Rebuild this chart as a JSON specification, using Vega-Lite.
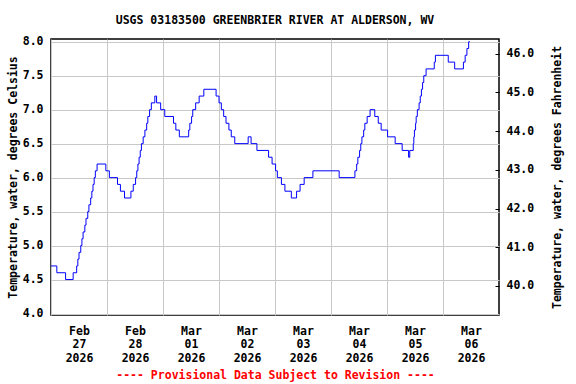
{
  "$schema": "https://vega.github.io/schema/vega-lite/v6.json",
  "width": 448,
  "height": 276,
  "autosize": {"type": "none"},
  "padding": {"left": 51, "top": 39, "right": 77, "bottom": 69},
  "title": {
    "text": "USGS 03183500 GREENBRIER RIVER AT ALDERSON, WV",
    "font": "DejaVu Sans Mono",
    "fontSize": 11.5,
    "fontWeight": "bold",
    "color": "black",
    "anchor": "middle",
    "frame": "group",
    "baseline": "alphabetic",
    "offset": 0
  },
  "config": {
    "view": {"stroke": "black", "strokeWidth": 1.5},
    "axis": {
      "labelFont": "DejaVu Sans Mono",
      "labelFontSize": 11.5,
      "labelFontWeight": "bold",
      "labelColor": "black",
      "titleFont": "DejaVu Sans Mono",
      "titleFontSize": 11.5,
      "titleFontWeight": "bold",
      "titleColor": "black",
      "domain": false,
      "gridColor": "#c8c8c8",
      "gridWidth": 1,
      "gridOpacity": 1
    }
  },
  "resolve": {"scale": {"y": "independent"}, "axis": {"y": "independent"}},
  "layer": [
    {
      "data": {
        "values": [
          {"t": "2026-02-27T00:00", "c": 4.7},
          {"t": "2026-02-27T02:30", "c": 4.6},
          {"t": "2026-02-27T06:15", "c": 4.5},
          {"t": "2026-02-27T09:30", "c": 4.6},
          {"t": "2026-02-27T11:00", "c": 4.7},
          {"t": "2026-02-27T11:30", "c": 4.8},
          {"t": "2026-02-27T12:00", "c": 4.9},
          {"t": "2026-02-27T12:45", "c": 5.0},
          {"t": "2026-02-27T13:15", "c": 5.1},
          {"t": "2026-02-27T13:45", "c": 5.2},
          {"t": "2026-02-27T14:30", "c": 5.3},
          {"t": "2026-02-27T15:00", "c": 5.4},
          {"t": "2026-02-27T15:45", "c": 5.5},
          {"t": "2026-02-27T16:15", "c": 5.6},
          {"t": "2026-02-27T17:00", "c": 5.7},
          {"t": "2026-02-27T17:30", "c": 5.8},
          {"t": "2026-02-27T18:00", "c": 5.9},
          {"t": "2026-02-27T18:30", "c": 6.0},
          {"t": "2026-02-27T19:00", "c": 6.1},
          {"t": "2026-02-27T19:45", "c": 6.2},
          {"t": "2026-02-27T23:30", "c": 6.1},
          {"t": "2026-02-28T01:00", "c": 6.0},
          {"t": "2026-02-28T04:30", "c": 5.9},
          {"t": "2026-02-28T05:45", "c": 5.8},
          {"t": "2026-02-28T07:30", "c": 5.7},
          {"t": "2026-02-28T10:15", "c": 5.8},
          {"t": "2026-02-28T11:15", "c": 5.9},
          {"t": "2026-02-28T12:15", "c": 6.0},
          {"t": "2026-02-28T12:45", "c": 6.1},
          {"t": "2026-02-28T13:15", "c": 6.2},
          {"t": "2026-02-28T13:45", "c": 6.3},
          {"t": "2026-02-28T14:15", "c": 6.4},
          {"t": "2026-02-28T14:45", "c": 6.5},
          {"t": "2026-02-28T15:30", "c": 6.6},
          {"t": "2026-02-28T16:15", "c": 6.7},
          {"t": "2026-02-28T17:00", "c": 6.8},
          {"t": "2026-02-28T17:30", "c": 6.9},
          {"t": "2026-02-28T18:15", "c": 7.0},
          {"t": "2026-02-28T19:00", "c": 7.1},
          {"t": "2026-02-28T20:30", "c": 7.2},
          {"t": "2026-02-28T21:15", "c": 7.1},
          {"t": "2026-02-28T23:00", "c": 7.0},
          {"t": "2026-03-01T00:45", "c": 6.9},
          {"t": "2026-03-01T04:30", "c": 6.8},
          {"t": "2026-03-01T05:30", "c": 6.7},
          {"t": "2026-03-01T07:00", "c": 6.6},
          {"t": "2026-03-01T11:00", "c": 6.7},
          {"t": "2026-03-01T11:30", "c": 6.8},
          {"t": "2026-03-01T12:15", "c": 6.9},
          {"t": "2026-03-01T12:45", "c": 7.0},
          {"t": "2026-03-01T14:00", "c": 7.1},
          {"t": "2026-03-01T15:30", "c": 7.2},
          {"t": "2026-03-01T17:30", "c": 7.3},
          {"t": "2026-03-01T22:45", "c": 7.2},
          {"t": "2026-03-02T00:00", "c": 7.1},
          {"t": "2026-03-02T01:00", "c": 7.0},
          {"t": "2026-03-02T02:00", "c": 6.9},
          {"t": "2026-03-02T03:00", "c": 6.8},
          {"t": "2026-03-02T04:15", "c": 6.7},
          {"t": "2026-03-02T05:15", "c": 6.6},
          {"t": "2026-03-02T06:45", "c": 6.5},
          {"t": "2026-03-02T12:30", "c": 6.6},
          {"t": "2026-03-02T13:45", "c": 6.5},
          {"t": "2026-03-02T16:15", "c": 6.4},
          {"t": "2026-03-02T21:15", "c": 6.3},
          {"t": "2026-03-02T22:45", "c": 6.2},
          {"t": "2026-03-03T00:15", "c": 6.1},
          {"t": "2026-03-03T01:00", "c": 6.0},
          {"t": "2026-03-03T02:45", "c": 5.9},
          {"t": "2026-03-03T04:15", "c": 5.8},
          {"t": "2026-03-03T07:00", "c": 5.7},
          {"t": "2026-03-03T09:15", "c": 5.8},
          {"t": "2026-03-03T10:45", "c": 5.9},
          {"t": "2026-03-03T12:30", "c": 6.0},
          {"t": "2026-03-03T16:15", "c": 6.1},
          {"t": "2026-03-04T03:30", "c": 6.0},
          {"t": "2026-03-04T10:15", "c": 6.1},
          {"t": "2026-03-04T11:00", "c": 6.2},
          {"t": "2026-03-04T11:30", "c": 6.3},
          {"t": "2026-03-04T12:15", "c": 6.4},
          {"t": "2026-03-04T12:45", "c": 6.5},
          {"t": "2026-03-04T13:15", "c": 6.6},
          {"t": "2026-03-04T14:00", "c": 6.7},
          {"t": "2026-03-04T14:30", "c": 6.8},
          {"t": "2026-03-04T15:30", "c": 6.9},
          {"t": "2026-03-04T16:45", "c": 7.0},
          {"t": "2026-03-04T18:45", "c": 6.9},
          {"t": "2026-03-04T20:15", "c": 6.8},
          {"t": "2026-03-04T21:30", "c": 6.7},
          {"t": "2026-03-05T00:15", "c": 6.6},
          {"t": "2026-03-05T03:30", "c": 6.5},
          {"t": "2026-03-05T06:30", "c": 6.4},
          {"t": "2026-03-05T09:15", "c": 6.3},
          {"t": "2026-03-05T09:45", "c": 6.4},
          {"t": "2026-03-05T11:15", "c": 6.5},
          {"t": "2026-03-05T11:30", "c": 6.6},
          {"t": "2026-03-05T11:45", "c": 6.7},
          {"t": "2026-03-05T12:15", "c": 6.8},
          {"t": "2026-03-05T12:30", "c": 6.9},
          {"t": "2026-03-05T13:00", "c": 7.0},
          {"t": "2026-03-05T13:45", "c": 7.1},
          {"t": "2026-03-05T14:15", "c": 7.2},
          {"t": "2026-03-05T14:45", "c": 7.3},
          {"t": "2026-03-05T15:15", "c": 7.4},
          {"t": "2026-03-05T15:45", "c": 7.5},
          {"t": "2026-03-05T16:45", "c": 7.6},
          {"t": "2026-03-05T20:15", "c": 7.7},
          {"t": "2026-03-05T20:45", "c": 7.8},
          {"t": "2026-03-06T02:15", "c": 7.7},
          {"t": "2026-03-06T05:00", "c": 7.6},
          {"t": "2026-03-06T08:45", "c": 7.7},
          {"t": "2026-03-06T09:30", "c": 7.8},
          {"t": "2026-03-06T10:15", "c": 7.9},
          {"t": "2026-03-06T11:00", "c": 8.0},
          {"t": "2026-03-06T11:30", "c": 8.0}
        ]
      },
      "mark": {"type": "line", "interpolate": "step-after", "color": "#0000ff", "strokeWidth": 1, "clip": true},
      "encoding": {
        "x": {
          "field": "t",
          "type": "temporal",
          "scale": {"domain": [{"year": 2026, "month": 2, "date": 27}, {"year": 2026, "month": 3, "date": 7}]},
          "axis": {
            "values": [
              {"year": 2026, "month": 2, "date": 27},
              {"year": 2026, "month": 2, "date": 28},
              {"year": 2026, "month": 3, "date": 1},
              {"year": 2026, "month": 3, "date": 2},
              {"year": 2026, "month": 3, "date": 3},
              {"year": 2026, "month": 3, "date": 4},
              {"year": 2026, "month": 3, "date": 5},
              {"year": 2026, "month": 3, "date": 6}
            ],
            "grid": true,
            "ticks": false,
            "labelOffset": 28,
            "labelFlush": false,
            "labelOverlap": false,
            "labelBound": false,
            "labelAlign": "center",
            "labelPadding": 10,
            "labelLineHeight": 13.5,
            "labelExpr": "[timeFormat(datum.value, '%b'), timeFormat(datum.value, '%d'), timeFormat(datum.value, '%Y')]",
            "title": "---- Provisional Data Subject to Revision ----",
            "titleColor": "#ff0000",
            "titlePadding": 6
          }
        },
        "y": {
          "field": "c",
          "type": "quantitative",
          "scale": {"domain": [3.978, 8.04], "nice": false, "zero": false},
          "axis": {
            "values": [4.0, 4.5, 5.0, 5.5, 6.0, 6.5, 7.0, 7.5, 8.0],
            "format": ".1f",
            "grid": true,
            "ticks": false,
            "labelPadding": 8,
            "title": "Temperature, water, degrees Celsius",
            "titlePadding": 4
          }
        }
      }
    },
    {
      "data": {"values": [{"f": 40}, {"f": 46}]},
      "mark": {"type": "point", "opacity": 0},
      "encoding": {
        "y": {
          "field": "f",
          "type": "quantitative",
          "scale": {"domain": [39.25, 46.38], "nice": false, "zero": false},
          "axis": {
            "orient": "right",
            "values": [40, 41, 42, 43, 44, 45, 46],
            "format": ".1f",
            "grid": false,
            "ticks": true,
            "tickSize": -4,
            "tickColor": "black",
            "tickWidth": 1,
            "labelPadding": 11,
            "title": "Temperature, water, degrees Fahrenheit",
            "titleAngle": 270,
            "titlePadding": 29
          }
        }
      }
    }
  ]
}
